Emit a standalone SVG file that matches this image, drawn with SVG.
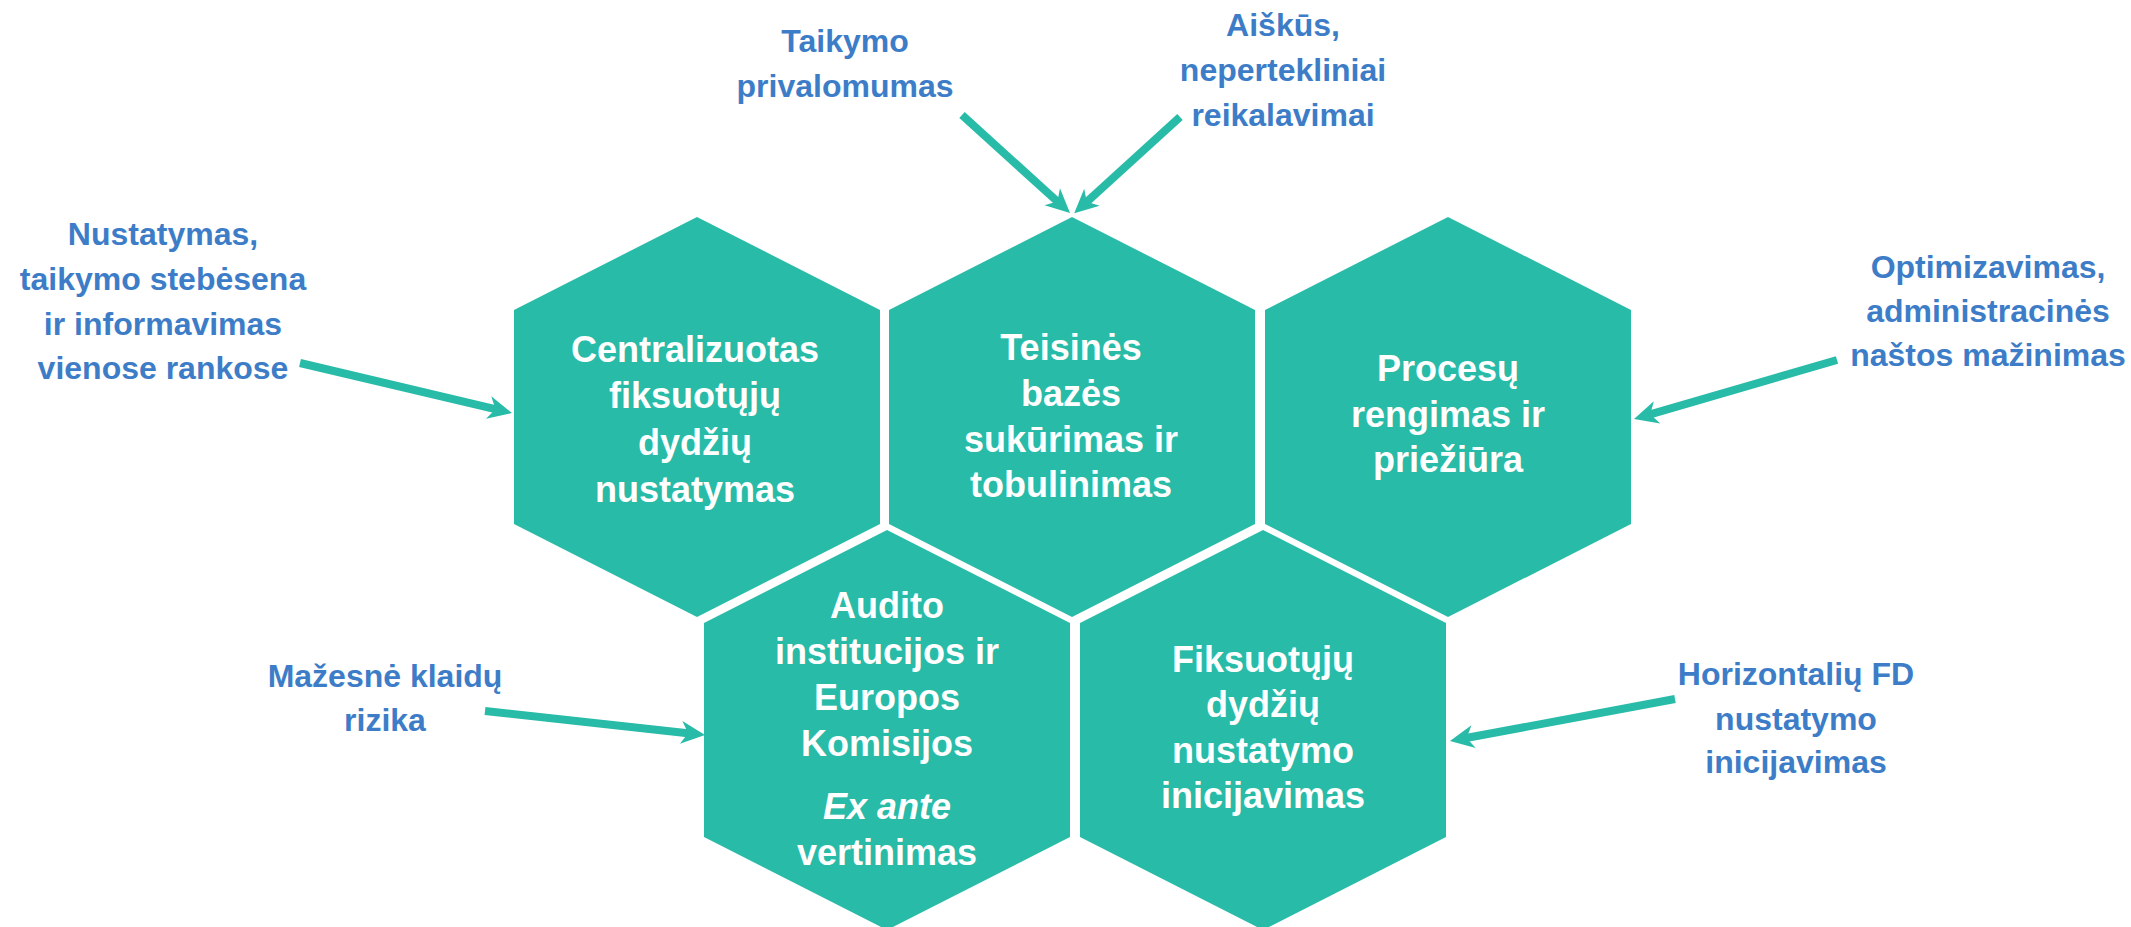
<svg xmlns="http://www.w3.org/2000/svg" width="2131" height="927" viewBox="0 0 2131 927">
<style>
.hex{fill:#28BBA8;}
.ht{font-family:"Liberation Sans",Arial,sans-serif;font-weight:bold;font-size:36px;fill:#FFFFFF;text-anchor:middle;}
.it{font-style:italic;}
.lb{font-family:"Liberation Sans",Arial,sans-serif;font-weight:bold;font-size:32px;fill:#3D7DC8;text-anchor:middle;}
.ar{fill:none;stroke:#28BBA8;stroke-width:8;marker-end:url(#ah);}
</style>
<defs>
<marker id="ah" markerUnits="userSpaceOnUse" viewBox="-12 -14 30 28" refX="0" refY="0" markerWidth="30" markerHeight="28" orient="auto" overflow="visible">
<path d="M15,0 L-9,-11.5 L-2,0 L-9,11.5 Z" fill="#28BBA8"/>
</marker>
</defs>
<rect width="2131" height="927" fill="#FFFFFF"/>

<g id="connectors">
<line class="ar" x1="300" y1="363" x2="497.4" y2="409.6"/>
<line class="ar" x1="962" y1="115" x2="1058.9" y2="202.9"/>
<line class="ar" x1="1180" y1="117" x2="1085.3" y2="203.2"/>
<line class="ar" x1="1837" y1="360" x2="1648.4" y2="414.9"/>
<line class="ar" x1="485" y1="711" x2="690.1" y2="733.4"/>
<line class="ar" x1="1675" y1="699" x2="1464.7" y2="738.3"/>
</g>

<g id="hex1">
<polygon class="hex" points="697,217 880,310 880,524 697,617 514,524 514,310"/>
<text class="ht" x="695" y="362">Centralizuotas</text>
<text class="ht" x="695" y="408">fiksuotųjų</text>
<text class="ht" x="695" y="455">dydžių</text>
<text class="ht" x="695" y="502">nustatymas</text>
</g>

<g id="hex2">
<polygon class="hex" points="1072,217 1255,310 1255,524 1072,617 889,524 889,310"/>
<text class="ht" x="1071" y="360">Teisinės</text>
<text class="ht" x="1071" y="406">bazės</text>
<text class="ht" x="1071" y="452">sukūrimas ir</text>
<text class="ht" x="1071" y="497">tobulinimas</text>
</g>

<g id="hex3">
<polygon class="hex" points="1448,217 1631,310 1631,524 1448,617 1265,524 1265,310"/>
<text class="ht" x="1448" y="381">Procesų</text>
<text class="ht" x="1448" y="427">rengimas ir</text>
<text class="ht" x="1448" y="472">priežiūra</text>
</g>

<g id="hex4">
<polygon class="hex" points="887,530 1070,623 1070,837 887,930 704,837 704,623"/>
<text class="ht" x="887" y="618">Audito</text>
<text class="ht" x="887" y="664">institucijos ir</text>
<text class="ht" x="887" y="710">Europos</text>
<text class="ht" x="887" y="756">Komisijos</text>
<text class="ht it" x="887" y="819">Ex ante</text>
<text class="ht" x="887" y="865">vertinimas</text>
</g>

<g id="hex5">
<polygon class="hex" points="1263,530 1446,623 1446,837 1263,930 1080,837 1080,623"/>
<text class="ht" x="1263" y="672">Fiksuotųjų</text>
<text class="ht" x="1263" y="717">dydžių</text>
<text class="ht" x="1263" y="763">nustatymo</text>
<text class="ht" x="1263" y="808">inicijavimas</text>
</g>

<g id="label-nustatymas">
<text class="lb" x="163" y="245">Nustatymas,</text>
<text class="lb" x="163" y="290">taikymo stebėsena</text>
<text class="lb" x="163" y="335">ir informavimas</text>
<text class="lb" x="163" y="379">vienose rankose</text>
</g>

<g id="label-taikymo">
<text class="lb" x="845" y="52">Taikymo</text>
<text class="lb" x="845" y="97">privalomumas</text>
</g>

<g id="label-aiskus">
<text class="lb" x="1283" y="36">Aiškūs,</text>
<text class="lb" x="1283" y="81">nepertekliniai</text>
<text class="lb" x="1283" y="126">reikalavimai</text>
</g>

<g id="label-optimizavimas">
<text class="lb" x="1988" y="278">Optimizavimas,</text>
<text class="lb" x="1988" y="322">administracinės</text>
<text class="lb" x="1988" y="366">naštos mažinimas</text>
</g>

<g id="label-mazesne">
<text class="lb" x="385" y="687">Mažesnė klaidų</text>
<text class="lb" x="385" y="731">rizika</text>
</g>

<g id="label-horizontaliu">
<text class="lb" x="1796" y="685">Horizontalių FD</text>
<text class="lb" x="1796" y="730">nustatymo</text>
<text class="lb" x="1796" y="773">inicijavimas</text>
</g>
</svg>
